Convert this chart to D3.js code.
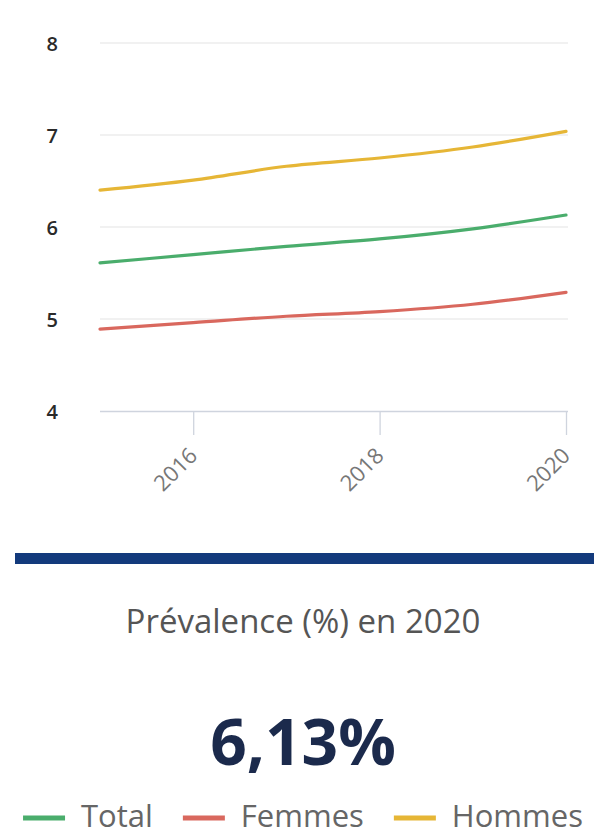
<!DOCTYPE html>
<html>
<head>
<meta charset="utf-8">
<script src="https://cdn.jsdelivr.net/npm/d3@7"></script>
<style>
  html, body { margin: 0; padding: 0; background: #ffffff; }
  svg { display: block; }
</style>
</head>
<body>
<svg id="chart" width="598" height="836"></svg>
<script>
// Prevalence by sex, 2015–2020
const years   = [2015, 2016, 2017, 2018, 2019, 2020];
const total   = [5.61, 5.70, 5.79, 5.87, 5.98, 6.13];
const femmes  = [4.89, 4.96, 5.03, 5.08, 5.16, 5.29];
const hommes  = [6.40, 6.51, 6.66, 6.75, 6.87, 7.04];

const seriesNames  = ["Total", "Femmes", "Hommes"];
const seriesColors = ["#4aad6c", "#d9685e", "#e6b636"];
const yTicks = [4, 5, 6, 7, 8];
const xTicks = [2016, 2018, 2020];

const headline = "Prévalence (%) en 2020";
const headlineValue = total[total.length - 1];

const svg = d3.select("#chart");

const x = d3.scaleLinear().domain([2015, 2020]).range([100, 566]);
const y = d3.scaleLinear().domain([4, 8]).range([411, 43]);

// horizontal grid
svg.append("g")
  .selectAll("line")
  .data(yTicks.filter(d => d !== 4))
  .join("line")
  .attr("x1", 100).attr("x2", 568)
  .attr("y1", d => y(d)).attr("y2", d => y(d))
  .attr("stroke", "#e4e4e4").attr("stroke-width", 1.2);

// y axis labels
const yAxis = d3.axisLeft(y).tickValues(yTicks).tickSize(0).tickPadding(0).tickFormat(d3.format("d"));
const gy = svg.append("g").attr("transform", "translate(58,0)").call(yAxis);
gy.select(".domain").remove();
gy.selectAll("text")
  .attr("font-family", "'Open Sans', sans-serif")
  .attr("font-size", 20)
  .attr("font-weight", 600)
  .attr("fill", "#2a2a2a")
  .attr("dy", "0.36em");

// x axis
const xAxis = d3.axisBottom(x).tickValues(xTicks).tickSize(24).tickPadding(0).tickFormat(d3.format("d"));
const gx = svg.append("g").attr("transform", `translate(0,${y(4)})`).call(xAxis);
gx.select(".domain").attr("d", `M100,0.5H568`).attr("stroke", "#cfd4de").attr("stroke-width", 1.5);
gx.selectAll(".tick line").attr("stroke", "#cfd4de").attr("stroke-width", 1.3);
gx.selectAll(".tick text")
  .attr("font-family", "'Open Sans', sans-serif")
  .attr("font-size", 22)
  .attr("fill", "#777")
  .attr("text-anchor", "end")
  .attr("y", 0)
  .attr("dy", 0)
  .attr("transform", "translate(5,46) rotate(-45)");

// series lines
const line = d3.line()
  .x((d, i) => x(years[i]))
  .y(d => y(d))
  .curve(d3.curveMonotoneX);

const seriesValues = [total, femmes, hommes];
svg.append("g")
  .selectAll("path")
  .data(seriesValues)
  .join("path")
  .attr("d", d => line(d))
  .attr("fill", "none")
  .attr("stroke", (d, i) => seriesColors[i])
  .attr("stroke-width", 3.2)
  .attr("stroke-linecap", "round");

// separator bar
svg.append("rect")
  .attr("x", 15).attr("y", 553)
  .attr("width", 579).attr("height", 11)
  .attr("fill", "#133a7c");

// headline
svg.append("text")
  .attr("x", 303).attr("y", 633)
  .attr("text-anchor", "middle")
  .attr("font-family", "'Open Sans', sans-serif")
  .attr("font-size", 33)
  .attr("fill", "#555")
  .text(headline);

svg.append("text")
  .attr("x", 303).attr("y", 765)
  .attr("text-anchor", "middle")
  .attr("font-family", "'Open Sans', sans-serif")
  .attr("font-size", 64)
  .attr("font-weight", 700)
  .attr("fill", "#1b2a4c")
  .text(d3.format(".2f")(headlineValue).replace(".", ",") + "%");

// legend
const legend = svg.append("g");
const items = legend.selectAll("g")
  .data(seriesNames)
  .join("g");
items.append("line")
  .attr("x1", 0).attr("x2", 42)
  .attr("y1", 0).attr("y2", 0)
  .attr("stroke", (d, i) => seriesColors[i])
  .attr("stroke-width", 5);
items.append("text")
  .attr("x", 58).attr("y", 9)
  .attr("font-family", "'Open Sans', sans-serif")
  .attr("font-size", 31)
  .attr("fill", "#666")
  .text(d => d);

let cursor = 0;
const gap = 30;
items.each(function () {
  const w = this.getBBox().width;
  d3.select(this).attr("transform", `translate(${cursor},0)`);
  cursor += w + gap;
});
const legendWidth = cursor - gap;
legend.attr("transform", `translate(${303 - legendWidth / 2},818)`);
</script>
</body>
</html>
